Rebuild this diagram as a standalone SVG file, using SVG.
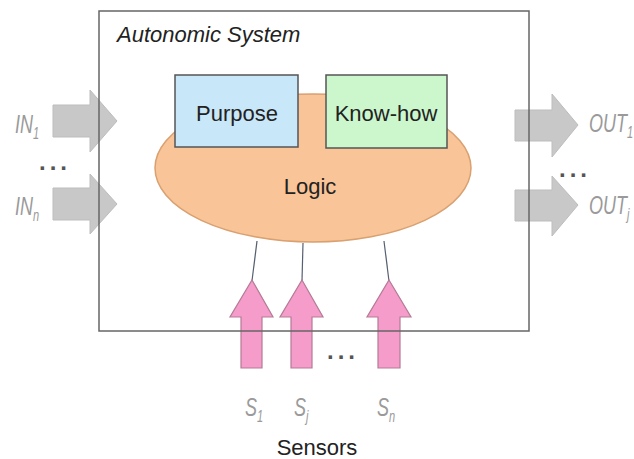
<svg xmlns="http://www.w3.org/2000/svg" width="634" height="459" viewBox="0 0 634 459">
<style>
.lbl{font-family:"Liberation Sans",Arial,sans-serif;font-size:22px;fill:#222;text-anchor:middle}
.io{font-family:"Liberation Sans",Arial,sans-serif;font-size:18px;font-style:italic;fill:#9a9a9a}
.sub{font-size:11px}
.dots{font-family:"Liberation Sans",Arial,sans-serif;font-size:24px;font-weight:bold;fill:#555;letter-spacing:4px}
.gray{fill:#c8c8c8;stroke:#bdbdbd;stroke-width:1}
.pink{fill:#f59ccb;stroke:#b57a95;stroke-width:1.2}
.node{stroke:#555;stroke-width:1.5}
.wire{stroke:#556070;stroke-width:1.2;fill:none}
</style>
<rect width="634" height="459" fill="#fff"/>
<g id="inputs">
<path class="gray" d="M53,105 H90 V90 L117,121 L90,152 V137 H53 Z"/>
<path class="gray" d="M53,188 H90 V174 L117,204 L90,234 V220 H53 Z"/>
<text class="io" transform="translate(15,133) scale(1,1.45)">IN<tspan class="sub" dy="4">1</tspan></text>
<text class="io" transform="translate(15,215) scale(1,1.45)">IN<tspan class="sub" dy="4">n</tspan></text>
<text class="dots" x="39" y="170">...</text>
</g>
<g id="outputs">
<path class="gray" d="M515,110 H552 V94 L578,125 L552,157 V141 H515 Z"/>
<path class="gray" d="M515,190 H552 V176 L578,205 L552,236 V221 H515 Z"/>
<text class="io" transform="translate(589,132) scale(1,1.45)">OUT<tspan class="sub" dy="4">1</tspan></text>
<text class="io" transform="translate(589,214) scale(1,1.45)">OUT<tspan class="sub" dy="4">j</tspan></text>
<text class="dots" x="559" y="177">...</text>
</g>
<g id="connectors">
<line class="wire" x1="257" y1="241" x2="252" y2="281"/>
<line class="wire" x1="303" y1="243" x2="302" y2="281"/>
<line class="wire" x1="384" y1="241" x2="389" y2="281"/>
</g>
<g id="sensors">
<path class="pink" d="M252,280 L273,317 H262 V368 H241 V317 H230 Z"/>
<path class="pink" d="M302,280 L323,317 H312 V368 H291 V317 H280 Z"/>
<path class="pink" d="M389,280 L411,317 H400 V368 H378 V317 H367 Z"/>
<text class="dots" x="327" y="359">...</text>
<text class="io" transform="translate(245,416) scale(1,1.45)">S<tspan class="sub" dy="4">1</tspan></text>
<text class="io" transform="translate(294,416) scale(1,1.45)">S<tspan class="sub" dy="4">j</tspan></text>
<text class="io" transform="translate(377,416) scale(1,1.45)">S<tspan class="sub" dy="4">n</tspan></text>
<text class="lbl" x="317" y="455">Sensors</text>
</g>
<g id="system">
<rect x="99" y="11" width="430" height="320" fill="none" stroke="#666" stroke-width="1.5"/>
<text x="117" y="42" font-family="'Liberation Sans',Arial,sans-serif" font-size="22" font-style="italic" fill="#222">Autonomic System</text>
</g>
<g id="logic">
<ellipse cx="313" cy="168" rx="158" ry="74" fill="#f9c497" stroke="#d9a070" stroke-width="1.5"/>
<text class="lbl" x="310" y="194">Logic</text>
</g>
<g id="purpose">
<rect class="node" x="175" y="75" width="123" height="72" fill="#c8e7f9"/>
<text class="lbl" x="237" y="121">Purpose</text>
</g>
<g id="knowhow">
<rect class="node" x="326" y="75" width="121" height="73" fill="#ccf7cc"/>
<text class="lbl" x="386" y="121">Know-how</text>
</g>
</svg>
